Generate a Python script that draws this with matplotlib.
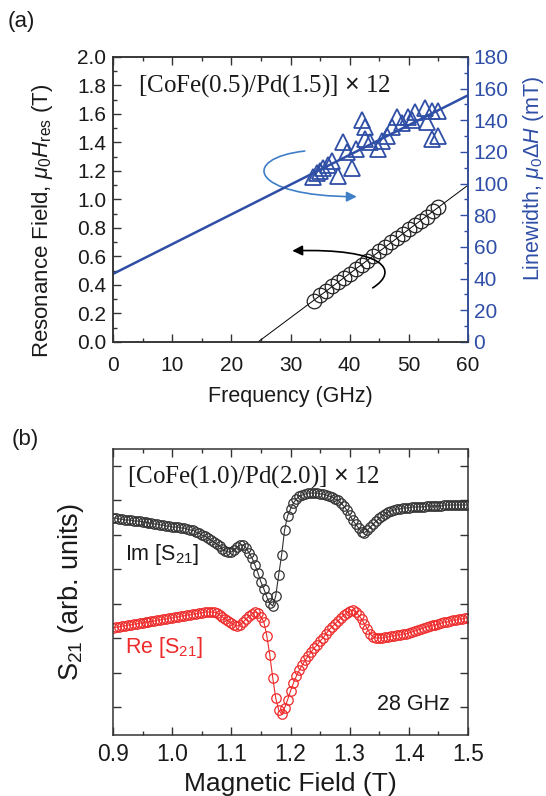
import numpy as np
import matplotlib
matplotlib.use("Agg")
import matplotlib.pyplot as plt
from matplotlib.path import Path
from matplotlib.patches import FancyArrowPatch
from matplotlib.ticker import MultipleLocator, FixedLocator, NullFormatter, FormatStrFormatter

plt.rcParams['font.family'] = ['Liberation Sans', 'DejaVu Sans']
plt.rcParams['mathtext.fontset'] = 'custom'
plt.rcParams['mathtext.rm'] = 'Liberation Sans'
plt.rcParams['mathtext.it'] = 'Liberation Sans:italic'

# ---------------- data: panel (a) ----------------
freq_res_GHz = [34, 35, 36, 37, 38, 39, 40, 41, 42, 43, 44,
                45, 46, 47, 48, 49, 50, 51, 52, 53, 54, 55]
H_res_T = [0.29, 0.33, 0.36, 0.39, 0.42, 0.45, 0.48, 0.51, 0.54, 0.57, 0.60,
           0.64, 0.67, 0.70, 0.73, 0.76, 0.79, 0.82, 0.85, 0.88, 0.92, 0.95]

freq_lw_GHz = [33.8, 34.5, 35.5, 36.3, 38.0, 38.9, 39.5, 40.4, 42.1, 42.6, 42.6,
               43.4, 44.8, 46.3, 47.2, 48.0, 48.8, 49.9, 51.0, 52.7, 53.9, 54.9,
               53.1, 54.9, 53.9, 35.0, 37.0, 41.0, 45.5, 50.5]
linewidth_mT = [104, 107, 110, 112, 105, 126, 120, 110, 140, 136, 128,
                126, 122, 130, 136, 142, 138, 142, 145, 148, 146, 146,
                139, 130, 128, 108, 114, 122, 127, 140]

# linear fits
res_fit_f0, res_fit_slope = 24.5, 0.031      # T / GHz
lw_fit_int, lw_fit_slope = 43.0, 1.88        # mT, mT / GHz

# ---------------- data: panel (b) ----------------
field_T = np.linspace(0.9, 1.5, 121)
im_S21 = [2.17, 2.17, 2.16, 2.16, 2.15, 2.15, 2.15, 2.14, 2.14, 2.14,
          2.13, 2.13, 2.12, 2.12, 2.11, 2.11, 2.10, 2.10, 2.09, 2.09,
          2.08, 2.08, 2.08, 2.07, 2.07, 2.06, 2.05, 2.05, 2.03, 2.02,
          2.00, 1.99, 1.97, 1.95, 1.93, 1.91, 1.89, 1.86, 1.84, 1.83,
          1.83, 1.85, 1.88, 1.90, 1.90, 1.87, 1.82, 1.77, 1.70, 1.62,
          1.53, 1.46, 1.38, 1.32, 1.29, 1.39, 1.60, 1.80, 2.05, 2.19,
          2.26, 2.32, 2.36, 2.39, 2.40, 2.41, 2.42, 2.42, 2.42, 2.42,
          2.41, 2.41, 2.40, 2.39, 2.38, 2.36, 2.35, 2.32, 2.29, 2.25,
          2.20, 2.15, 2.11, 2.07, 2.03, 2.02, 2.05, 2.08, 2.11, 2.14,
          2.17, 2.19, 2.21, 2.23, 2.24, 2.25, 2.26, 2.26, 2.27, 2.27,
          2.27, 2.28, 2.28, 2.28, 2.28, 2.28, 2.29, 2.29, 2.29, 2.29,
          2.29, 2.29, 2.30, 2.30, 2.30, 2.30, 2.30, 2.30, 2.30, 2.30,
          2.30]
re_S21 = [1.07, 1.08, 1.08, 1.09, 1.09, 1.10, 1.10, 1.11, 1.11, 1.12,
          1.12, 1.13, 1.13, 1.14, 1.14, 1.15, 1.15, 1.16, 1.16, 1.17,
          1.17, 1.18, 1.18, 1.19, 1.19, 1.20, 1.20, 1.21, 1.21, 1.22,
          1.22, 1.23, 1.23, 1.23, 1.23, 1.22, 1.20, 1.18, 1.16, 1.14,
          1.12, 1.10, 1.09, 1.10, 1.13, 1.16, 1.19, 1.21, 1.23, 1.22,
          1.18, 1.13, 0.99, 0.80, 0.57, 0.37, 0.25, 0.21, 0.27, 0.35,
          0.44, 0.52, 0.59, 0.65, 0.70, 0.75, 0.79, 0.83, 0.87, 0.90,
          0.94, 0.97, 1.01, 1.05, 1.08, 1.11, 1.14, 1.17, 1.20, 1.22,
          1.24, 1.25, 1.23, 1.20, 1.16, 1.11, 1.06, 1.01, 0.98, 0.97,
          0.97, 0.97, 0.98, 0.98, 0.99, 0.99, 1.00, 1.00, 1.01, 1.01,
          1.02, 1.03, 1.04, 1.05, 1.06, 1.07, 1.08, 1.09, 1.10, 1.10,
          1.11, 1.12, 1.13, 1.13, 1.14, 1.15, 1.15, 1.16, 1.16, 1.17,
          1.17]

# ---------------- figure ----------------
W, H = 546, 796
fig = plt.figure(figsize=(W / 100, H / 100), dpi=100)

BLUE = '#2f4ea6'
LBLUE = '#3f7fc8'
SPINE = '#333333'
TXT = '#1a1a1a'

def px_axes(l, t, r, b):
    return [l / W, 1 - b / H, (r - l) / W, (b - t) / H]

def style(ax):
    for s in ax.spines.values():
        s.set_color(SPINE)
        s.set_linewidth(1.1)
    ax.tick_params(which='both', direction='in', colors=SPINE, width=1.0)
    ax.tick_params(which='major', length=6)
    ax.tick_params(which='minor', length=3)

# ---- panel (a) ----
ax = fig.add_axes(px_axes(113, 57, 468, 342))
style(ax)
ax.set_xlim(0, 60)
ax.set_ylim(0, 2.0)
ax.xaxis.set_major_locator(MultipleLocator(10))
ax.xaxis.set_minor_locator(MultipleLocator(5))
ax.yaxis.set_major_locator(MultipleLocator(0.2))
ax.yaxis.set_minor_locator(MultipleLocator(0.1))
ax.yaxis.set_major_formatter(FormatStrFormatter('%.1f'))
ax.tick_params(which='both', top=True, right=False, labelsize=15, labelcolor=TXT)
ax.tick_params(axis='x', pad=10)
ax.tick_params(axis='y', pad=5)

f_line = np.array([res_fit_f0, 60])
ax.plot(f_line, res_fit_slope * (f_line - res_fit_f0), color='black', lw=0.7, zorder=2)
ax.plot(freq_res_GHz, H_res_T, 'o', mfc='none', mec='#222222', ms=10.5, mew=0.9, zorder=3)

ax.set_xlabel('Frequency (GHz)', fontsize=15.5, color=TXT, labelpad=8)
ax.set_ylabel(r'Resonance Field, $\mu_0H_{\rm res}$ (T)', fontsize=16, color=TXT)
ax.yaxis.set_label_coords(-58 / 355, 0.425)

ax2 = ax.twinx()
style(ax2)
ax2.set_ylim(0, 180)
ax2.yaxis.set_major_locator(MultipleLocator(20))
ax2.yaxis.set_minor_locator(MultipleLocator(10))
ax2.spines['right'].set_color(BLUE)
ax2.tick_params(which='both', colors=BLUE, labelsize=15, left=False, pad=4)
ax2.tick_params(which='both', labelcolor=BLUE)
f_all = np.array([0, 60])
ax2.plot(f_all, lw_fit_int + lw_fit_slope * f_all, color=BLUE, lw=1.8, zorder=2)
ax2.plot(freq_lw_GHz, linewidth_mT, '^', mfc='none', mec=BLUE, ms=11, mew=1.3, zorder=3)
ax2.set_ylabel(r'Linewidth, $\mu_0\Delta H$ (mT)', fontsize=15.5, color=BLUE)
ax2.yaxis.set_label_coords(1 + 53 / 355, 0.575)

ax.text(0.07, 0.9, r'[CoFe(0.5)/Pd(1.5)] $\times$ 12', transform=ax.transAxes,
        fontsize=18, family='Liberation Serif', color=TXT, va='center', ha='left')

# blue curved arrow (points to right axis data)
bpath = Path([(32.4, 1.34), (21.5, 1.29), (23.0, 1.02), (41.2, 1.02)],
             [Path.MOVETO, Path.CURVE4, Path.CURVE4, Path.CURVE4])
ax.add_patch(FancyArrowPatch(path=bpath, arrowstyle='-|>,head_length=6,head_width=3',
                             color=LBLUE, lw=1.2, transform=ax.transData, zorder=4))
# black curved arrow (points to left axis data)
kpath = Path([(43.9, 0.38), (48.5, 0.50), (46.0, 0.66), (30.3, 0.64)],
             [Path.MOVETO, Path.CURVE4, Path.CURVE4, Path.CURVE4])
ax.add_patch(FancyArrowPatch(path=kpath, arrowstyle='-|>,head_length=6,head_width=3',
                             color='black', lw=1.2, transform=ax.transData, zorder=4))

fig.text(8 / W, 1 - 22 / H, '(a)', fontsize=16, va='center', ha='left', color=TXT)

# ---- panel (b) ----
bx = fig.add_axes(px_axes(113, 449, 468, 735))
style(bx)
bx.set_xlim(0.9, 1.5)
bx.set_ylim(0, 2.86)
bx.xaxis.set_major_locator(MultipleLocator(0.1))
bx.xaxis.set_minor_locator(MultipleLocator(0.05))
bx.xaxis.set_major_formatter(FormatStrFormatter('%.1f'))
bx.yaxis.set_major_locator(FixedLocator([0.28, 0.62, 0.97, 1.31, 1.66, 2.00, 2.35, 2.69]))
bx.yaxis.set_major_formatter(NullFormatter())
bx.tick_params(which='both', top=True, right=True, labelsize=16.5, labelcolor=TXT)
bx.tick_params(axis='y', which='major', length=6)
bx.tick_params(axis='x', pad=6)

bx.plot(field_T, im_S21, '-o', color='#333333', lw=0.8, ms=6.8, mfc='none', mec='#333333', mew=0.9)
bx.plot(field_T, re_S21, '-o', color='#ee2a2a', lw=0.8, ms=6.8, mfc='none', mec='#ee2a2a', mew=0.9)

bx.set_xlabel('Magnetic Field (T)', fontsize=19, color=TXT, labelpad=4)
bx.set_ylabel(r'S$_{21}$ (arb. units)', fontsize=19.5, color=TXT, labelpad=16)

bx.text(0.04, 0.905, r'[CoFe(1.0)/Pd(2.0)] $\times$ 12', transform=bx.transAxes,
        fontsize=18, family='Liberation Serif', color=TXT, va='center', ha='left')
bx.text(0.035, 0.63, r'Im [S$_{21}$]', transform=bx.transAxes, fontsize=15.5,
        color=TXT, va='center', ha='left')
bx.text(0.035, 0.305, r'Re [S$_{21}$]', transform=bx.transAxes, fontsize=15.5,
        color='#ee2a2a', va='center', ha='left')
bx.text(0.95, 0.105, '28 GHz', transform=bx.transAxes, fontsize=15.5,
        color=TXT, va='center', ha='right')

fig.text(12 / W, 1 - 440 / H, '(b)', fontsize=16, va='center', ha='left', color=TXT)

fig.savefig('out.png', dpi=100)
